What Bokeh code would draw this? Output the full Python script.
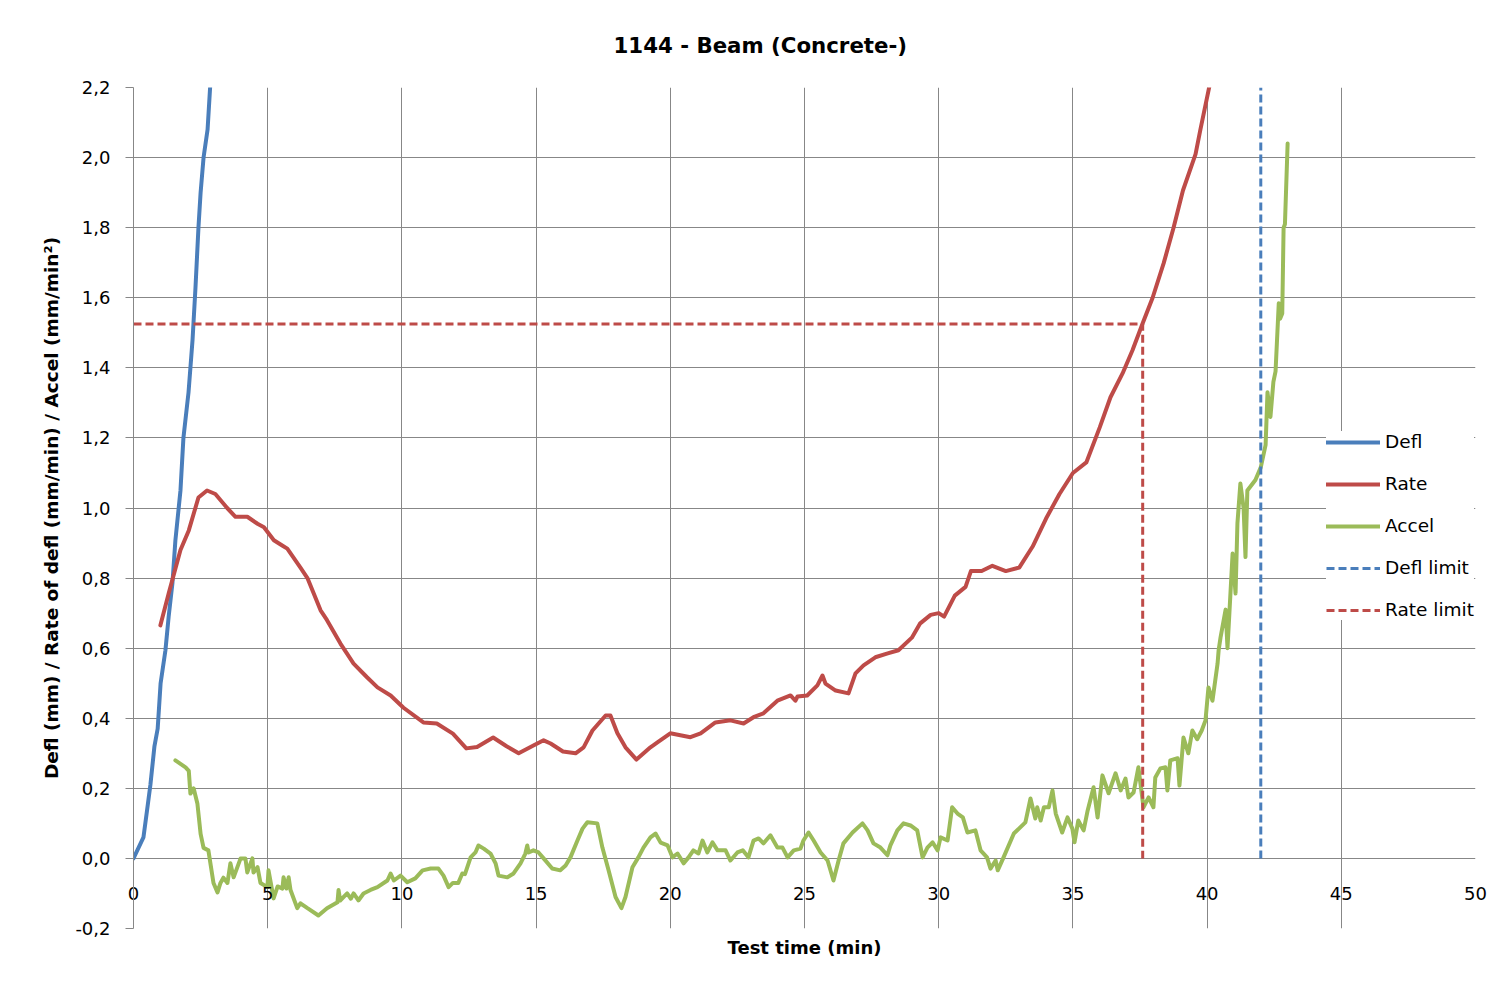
from bokeh.plotting import figure
from bokeh.models import (FixedTicker, Legend, LegendItem, Title, Range1d)
from bokeh.embed import file_html
from bokeh.resources import INLINE

# ---------------- data ----------------
title_text = "1144 - Beam (Concrete-)"
x_title = "Test time (min)"
y_title = "Defl (mm) / Rate of defl (mm/min) / Accel (mm/min\u00b2)"

x_ticks = [0, 5, 10, 15, 20, 25, 30, 35, 40, 45, 50]
x_tick_labels = ["0", "5", "10", "15", "20", "25", "30", "35", "40", "45", "50"]
y_ticks = [-0.2, 0.0, 0.2, 0.4, 0.6, 0.8, 1.0, 1.2, 1.4, 1.6, 1.8, 2.0, 2.2]
y_tick_labels = ["-0,2", "0,0", "0,2", "0,4", "0,6", "0,8", "1,0", "1,2",
                 "1,4", "1,6", "1,8", "2,0", "2,2"]

defl_t = [0, 0.37, 0.52, 0.63, 0.78, 0.9, 1.01, 1.19, 1.31, 1.45, 1.56, 1.75,
          1.86, 2.05, 2.2, 2.31, 2.42, 2.5, 2.61, 2.76, 2.87]
defl_v = [0, 0.06, 0.146, 0.21, 0.32, 0.37, 0.5, 0.594, 0.69, 0.785, 0.907, 1.05,
          1.2, 1.33, 1.48, 1.63, 1.8, 1.9, 2.0, 2.08, 2.22]

rate_t = [1.0, 1.31, 1.75, 2.06, 2.42, 2.74, 3.05, 3.49, 3.8, 4.24, 4.62, 4.86,
          5.23, 5.54, 5.73, 6.22, 6.48, 6.97, 7.21, 7.71, 8.2, 8.7, 9.09, 9.58,
          10.06, 10.8, 11.3, 11.9, 12.4, 12.8, 13.4, 13.9, 14.35, 14.9, 15.28,
          15.54, 16.0, 16.47, 16.77, 17.1, 17.59, 17.77, 18.03, 18.33, 18.74,
          19.26, 19.52, 20.0, 20.75, 21.13, 21.68, 22.24, 22.73, 23.1, 23.47,
          23.99, 24.48, 24.66, 24.74, 25.1, 25.48, 25.67, 25.78, 26.16, 26.64,
          26.9, 27.2, 27.64, 28.1, 28.5, 29.0, 29.3, 29.7, 30.0, 30.2, 30.6,
          31.0, 31.2, 31.6, 32.0, 32.5, 33.0, 33.5, 34.0, 34.5, 35.0, 35.5,
          36.0, 36.4, 36.85, 37.22, 37.6, 37.97, 38.38, 38.75, 39.1, 39.57,
          39.75, 40.13]
rate_v = [0.665, 0.756, 0.88, 0.936, 1.03, 1.05, 1.04, 1.0, 0.975, 0.975, 0.955,
          0.945, 0.908, 0.893, 0.884, 0.83, 0.8, 0.708, 0.68, 0.613, 0.556,
          0.517, 0.488, 0.465, 0.43, 0.388, 0.385, 0.356, 0.314, 0.318, 0.345,
          0.32, 0.3, 0.322, 0.337, 0.328, 0.305, 0.3, 0.317, 0.365, 0.408,
          0.408, 0.357, 0.317, 0.282, 0.317, 0.331, 0.357, 0.346, 0.357, 0.388,
          0.394, 0.385, 0.403, 0.414, 0.45, 0.465, 0.45, 0.462, 0.465, 0.494,
          0.522, 0.499, 0.479, 0.471, 0.528, 0.551, 0.574, 0.585, 0.594, 0.63,
          0.67, 0.695, 0.7, 0.69, 0.75, 0.775, 0.82, 0.82, 0.835, 0.82, 0.83,
          0.89, 0.97, 1.04, 1.1, 1.13, 1.23, 1.316, 1.384, 1.45, 1.527, 1.6,
          1.698, 1.8, 1.906, 2.01, 2.08, 2.22]

accel_t = [1.56, 1.75, 1.94, 2.06, 2.12, 2.24, 2.38, 2.5, 2.61, 2.79, 2.98, 3.13,
           3.24, 3.35, 3.5, 3.61, 3.73, 3.99, 4.17, 4.24, 4.43, 4.47, 4.62, 4.73,
           4.99, 5.03, 5.22, 5.37, 5.55, 5.59, 5.7, 5.78, 5.85, 6.1, 6.22, 6.48,
           6.89, 7.21, 7.6, 7.64, 7.7, 7.96, 8.1, 8.2, 8.38, 8.57, 8.83, 9.09,
           9.46, 9.58, 9.7, 9.95, 10.2, 10.5, 10.77, 11.07, 11.36, 11.55, 11.74,
           11.9, 12.1, 12.25, 12.35, 12.56, 12.74, 12.85, 13.05, 13.3, 13.49,
           13.6, 13.93, 14.16, 14.42, 14.6, 14.67, 14.72, 14.9, 15.09, 15.28,
           15.6, 15.9, 16.1, 16.28, 16.54, 16.73, 16.91, 17.28, 17.47, 17.7,
           17.96, 18.18, 18.33, 18.59, 18.81, 19.0, 19.26, 19.45, 19.64, 19.9,
           20.08, 20.27, 20.5, 20.68, 20.86, 21.05, 21.2, 21.38, 21.57, 21.76,
           22.06, 22.24, 22.5, 22.7, 22.91, 23.1, 23.29, 23.47, 23.73, 23.99,
           24.18, 24.37, 24.6, 24.85, 24.96, 25.15, 25.34, 25.6, 25.86, 26.08,
           26.27, 26.45, 26.79, 27.16, 27.35, 27.57, 27.83, 28.09, 28.2, 28.46,
           28.69, 28.95, 29.2, 29.4, 29.58, 29.77, 29.96, 30.07, 30.33, 30.5,
           30.7, 30.9, 31.07, 31.37, 31.56, 31.8, 31.93, 32.12, 32.2, 32.4,
           32.8, 33.23, 33.42, 33.6, 33.67, 33.8, 33.92, 34.1, 34.24, 34.36,
           34.6, 34.8, 34.98, 35.06, 35.2, 35.4, 35.55, 35.77, 35.92, 36.1,
           36.33, 36.59, 36.78, 36.96, 37.07, 37.26, 37.44, 37.63, 37.82, 38.0,
           38.07, 38.26, 38.45, 38.52, 38.63, 38.9, 38.97, 39.12, 39.3, 39.45,
           39.63, 39.8, 39.94, 40.05, 40.2, 40.39, 40.43, 40.5, 40.69, 40.76,
           40.95, 41.06, 41.13, 41.24, 41.36, 41.43, 41.5, 41.8, 42.0, 42.18,
           42.25, 42.36, 42.47, 42.55, 42.67, 42.72, 42.8, 42.85, 42.9, 43.0]
accel_v = [0.28, 0.27, 0.26, 0.25, 0.185, 0.2, 0.157, 0.07, 0.03, 0.023, -0.07,
           -0.097, -0.07, -0.055, -0.07, -0.014, -0.054, 0.0, 0.0, -0.04, 0.0,
           -0.04, -0.025, -0.07, -0.082, -0.034, -0.114, -0.08, -0.086, -0.054,
           -0.086, -0.054, -0.09, -0.142, -0.128, -0.142, -0.163, -0.142,
           -0.125, -0.09, -0.12, -0.1, -0.115, -0.1, -0.12, -0.1, -0.09,
           -0.082, -0.063, -0.043, -0.063, -0.049, -0.068, -0.057, -0.034,
           -0.029, -0.029, -0.049, -0.082, -0.07, -0.07, -0.043, -0.045, 0.003,
           0.017, 0.037, 0.028, 0.014, -0.014, -0.049, -0.054, -0.043, -0.014,
           0.014, 0.037, 0.017, 0.023, 0.017, 0.0, -0.029, -0.034, -0.02, 0.003,
           0.051, 0.085, 0.103, 0.1, 0.031, -0.034, -0.11, -0.142, -0.11,
           -0.025, 0.003, 0.031, 0.06, 0.071, 0.045, 0.037, 0.003, 0.014,
           -0.014, 0.003, 0.023, 0.014, 0.051, 0.017, 0.046, 0.023, 0.023,
           -0.006, 0.017, 0.023, 0.003, 0.051, 0.057, 0.043, 0.066, 0.031,
           0.031, 0.003, 0.023, 0.028, 0.051, 0.074, 0.051, 0.017, -0.006,
           -0.063, -0.006, 0.043, 0.074, 0.1, 0.08, 0.043, 0.031, 0.009, 0.037,
           0.08, 0.1, 0.094, 0.08, 0.003, 0.031, 0.046, 0.023, 0.06, 0.051,
           0.146, 0.128, 0.117, 0.074, 0.08, 0.023, 0.003, -0.029, -0.006,
           -0.034, 0.0, 0.071, 0.103, 0.171, 0.114, 0.146, 0.108, 0.146, 0.146,
           0.194, 0.128, 0.074, 0.117, 0.085, 0.046, 0.108, 0.08, 0.137, 0.203,
           0.117, 0.237, 0.186, 0.243, 0.194, 0.228, 0.174, 0.188, 0.26, 0.146,
           0.174, 0.146, 0.231, 0.257, 0.26, 0.194, 0.28, 0.286, 0.208, 0.345,
           0.3, 0.365, 0.34, 0.365, 0.394, 0.488, 0.45, 0.556, 0.594, 0.63,
           0.71, 0.6, 0.87, 0.756, 0.956, 1.07, 1.0, 0.86, 1.05, 1.08, 1.116,
           1.18, 1.33, 1.26, 1.36, 1.39, 1.584, 1.54, 1.555, 1.8, 1.81, 2.04]

defl_limit_t = [42.0, 42.0]
defl_limit_v = [0.0, 2.2]
rate_limit_t = [0.0, 37.6, 37.6]
rate_limit_v = [1.525, 1.525, 0.0]

series_names = ["Defl", "Rate", "Accel", "Defl limit", "Rate limit"]

# ---------------- styles ----------------
FONT = "DejaVu Sans"
GRID = "#878787"
BLUE = "#4A7EBB"
RED = "#BE4B48"
GREEN = "#9BBB59"

p = figure(width=1493, height=981, output_backend="svg", toolbar_location=None,
           x_range=Range1d(0, 50), y_range=Range1d(-0.2, 2.2),
           min_border_left=133, min_border_right=18, min_border_top=87,
           min_border_bottom=53)
p.outline_line_color = None
p.background_fill_color = "white"
p.border_fill_color = "white"

p.title = Title(text=title_text, text_font=FONT, text_font_size="21.3px",
                text_font_style="bold", text_color="black", align="left",
                offset=480, standoff=60)

# x axis: its labels are pulled up so they sit just under the y = 0 line
p.xaxis.ticker = FixedTicker(ticks=x_ticks)
p.xaxis.major_label_overrides = {t: l for t, l in zip(x_ticks, x_tick_labels)}
p.xaxis.axis_line_color = None
p.xaxis.major_tick_line_color = None
p.xaxis.minor_tick_line_color = None
p.xaxis.major_tick_out = 0
p.xaxis.major_tick_in = 0
p.xaxis.major_label_standoff = -42
p.xaxis.major_label_text_font = FONT
p.xaxis.major_label_text_font_size = "18px"
p.xaxis.major_label_text_color = "black"

# y axis
p.yaxis.ticker = FixedTicker(ticks=y_ticks)
p.yaxis.major_label_overrides = {t: l for t, l in zip(y_ticks, y_tick_labels)}
p.yaxis.axis_line_color = GRID
p.yaxis.major_tick_line_color = GRID
p.yaxis.minor_tick_line_color = None
p.yaxis.major_tick_out = 8
p.yaxis.major_tick_in = 0
p.yaxis.major_label_standoff = 15
p.yaxis.major_label_text_font = FONT
p.yaxis.major_label_text_font_size = "18px"
p.yaxis.major_label_text_color = "black"
p.yaxis.axis_label = y_title
p.yaxis.axis_label_text_font = FONT
p.yaxis.axis_label_text_font_size = "18.5px"
p.yaxis.axis_label_text_font_style = "bold"
p.yaxis.axis_label_text_color = "black"
p.yaxis.axis_label_standoff = 10

p.xgrid.ticker = FixedTicker(ticks=x_ticks)
p.ygrid.ticker = FixedTicker(ticks=y_ticks[1:])
p.xgrid.grid_line_color = GRID
p.ygrid.grid_line_color = GRID

p.add_layout(Title(text=x_title, text_font=FONT, text_font_size="18px",
                   text_font_style="bold", text_color="black", align="center",
                   standoff=13), "below")

common = dict(line_join="round", line_cap="round")
r_defl = p.line(defl_t, defl_v, line_color=BLUE, line_width=4, **common)
r_rate = p.line(rate_t, rate_v, line_color=RED, line_width=4, **common)
r_accel = p.line(accel_t, accel_v, line_color=GREEN, line_width=4, **common)
r_dlim = p.line(defl_limit_t, defl_limit_v, line_color=BLUE, line_width=3,
                line_dash="8 4")
r_rlim = p.line(rate_limit_t, rate_limit_v, line_color=RED, line_width=3,
                line_dash="8 4")

legend = Legend(items=[LegendItem(label=n, renderers=[r]) for n, r in
                       zip(series_names, [r_defl, r_rate, r_accel, r_dlim, r_rlim])],
                location=(1193, 308), orientation="vertical",
                background_fill_color="white", background_fill_alpha=1.0,
                border_line_color=None, padding=12, margin=0,
                glyph_width=54, glyph_height=20, label_height=20, spacing=21,
                label_standoff=5, label_text_font=FONT,
                label_text_font_size="18.5px", label_text_color="black")
p.add_layout(legend, "center")

open("out.html", "w").write(file_html(p, INLINE))
